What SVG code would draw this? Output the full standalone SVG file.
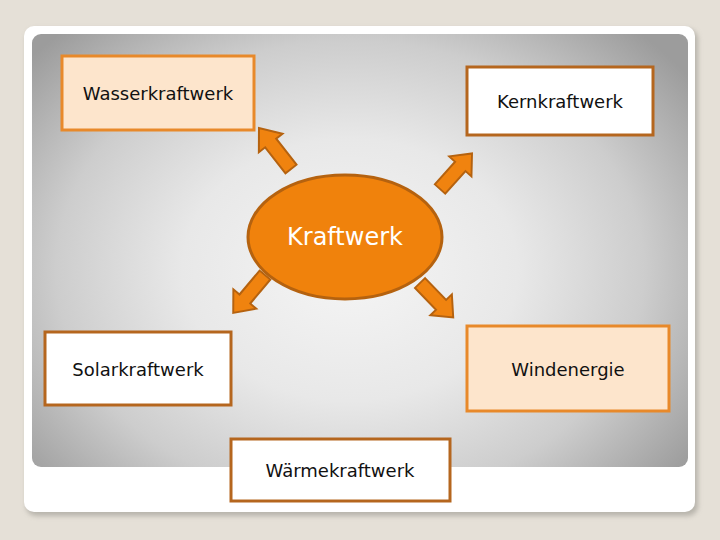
<svg xmlns="http://www.w3.org/2000/svg" width="720" height="540" viewBox="0 0 720 540">
<defs>
<radialGradient id="bg" cx="350" cy="270" r="420" gradientUnits="userSpaceOnUse" gradientTransform="translate(350 270) scale(1 0.78) translate(-350 -270)">
<stop offset="0" stop-color="#f5f5f5"/>
<stop offset="0.4" stop-color="#e8e8e8"/>
<stop offset="0.7" stop-color="#cdcdcd"/>
<stop offset="1" stop-color="#9c9c9c"/>
</radialGradient>
<filter id="sh" x="-5%" y="-5%" width="110%" height="110%">
<feGaussianBlur stdDeviation="2.5"/>
</filter>
<path id="arr" d="M0,-7 L33,-7 L33,-15 L52,0 L33,15 L33,7 L0,7 Z"/>
<style>
.t{font-family:"DejaVu Sans",Verdana,sans-serif;font-size:18px;fill:#111;text-anchor:middle;dominant-baseline:central}
.light{fill:#fde5cc;stroke:#e8892a;stroke-width:3}
.white{fill:#ffffff;stroke:#b5661e;stroke-width:3}
.a{fill:#f0830f;stroke:#b5620f;stroke-width:2;stroke-linejoin:miter}
</style>
</defs>
<rect width="720" height="540" fill="#e5e0d7"/>
<rect x="26" y="29" width="672" height="487" rx="10" fill="#9a9790" opacity="0.6" filter="url(#sh)"/>
<rect x="24" y="26" width="671" height="486" rx="10" fill="#ffffff"/>
<rect x="32" y="34" width="656" height="433" rx="9" fill="url(#bg)"/>
<g id="connectors">
<use href="#arr" class="a" transform="translate(291 169) rotate(-128)"/>
<use href="#arr" class="a" transform="translate(440 189) rotate(-48) scale(0.92 1)"/>
<use href="#arr" class="a" transform="translate(265 275) rotate(130) scale(0.95 1)"/>
<use href="#arr" class="a" transform="translate(420 283) rotate(46) scale(0.92 1)"/>
</g>
<g id="kraftwerk">
<ellipse cx="345" cy="237" rx="97" ry="62" fill="#f0820c" stroke="#b5620f" stroke-width="3"/>
<text x="345" y="237" class="t" style="font-size:24px;fill:#ffffff">Kraftwerk</text>
</g>
<g id="wasserkraftwerk">
<rect x="62" y="56" width="192" height="74" class="light"/>
<text x="158" y="93" class="t">Wasserkraftwerk</text>
</g>
<g id="kernkraftwerk">
<rect x="467" y="67" width="186" height="68" class="white"/>
<text x="560" y="101" class="t">Kernkraftwerk</text>
</g>
<g id="solarkraftwerk">
<rect x="45" y="332" width="186" height="73" class="white"/>
<text x="138" y="369" class="t">Solarkraftwerk</text>
</g>
<g id="windenergie">
<rect x="467" y="326" width="202" height="85" class="light"/>
<text x="568" y="369" class="t">Windenergie</text>
</g>
<g id="waermekraftwerk">
<rect x="231" y="439" width="219" height="62" class="white"/>
<text x="340" y="470" class="t">Wärmekraftwerk</text>
</g>
</svg>
